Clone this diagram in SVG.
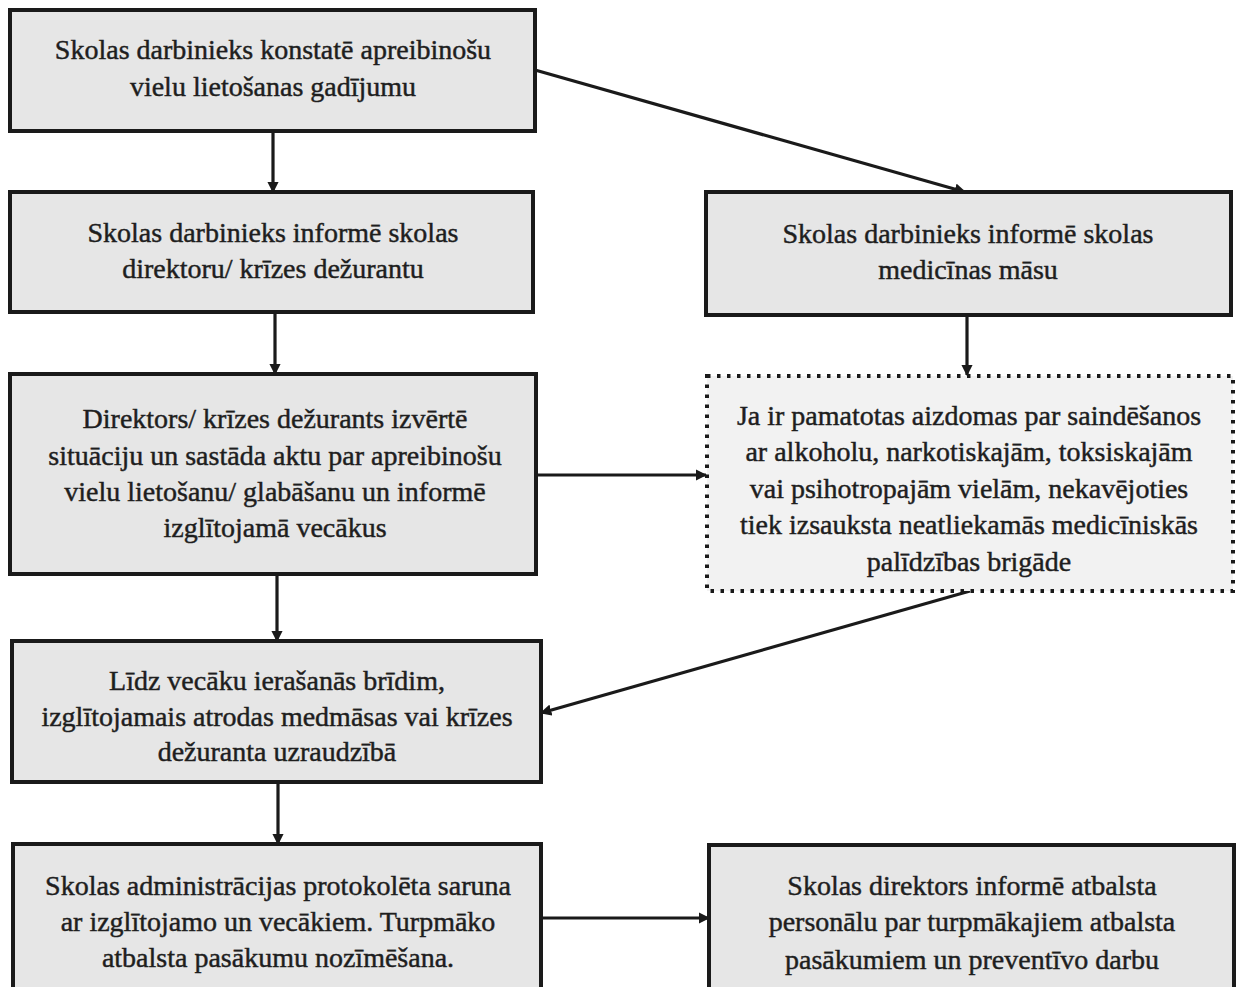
<svg xmlns="http://www.w3.org/2000/svg" width="1241" height="987" viewBox="0 0 1241 987">
<defs>
<style>
.box{fill:#e6e6e6;stroke:#1a1a1a;stroke-width:4}
.dot{fill:#f2f2f2;stroke:#1a1a1a;stroke-width:4;stroke-dasharray:3.5 6.5}
.t{font-family:"Liberation Serif",serif;font-size:28px;fill:#1e1e1e;stroke:#1e1e1e;stroke-width:0.45;text-anchor:middle}
.c{stroke:#1a1a1a;stroke-width:3.2;fill:none;marker-end:url(#ah)}
</style>
<marker id="ah" viewBox="0 0 10 10" refX="9" refY="5" markerWidth="3.6" markerHeight="3.6" orient="auto" markerUnits="strokeWidth">
<path d="M0,0 L10,5 L0,10 z" fill="#1a1a1a"/>
</marker>
</defs>
<rect width="1241" height="987" fill="#ffffff"/>
<g id="connectors">
<line class="c" x1="273" y1="131" x2="273" y2="192"/>
<line class="c" x1="275" y1="312" x2="275" y2="374"/>
<line class="c" x1="277" y1="574" x2="277" y2="641"/>
<line class="c" x1="278" y1="782" x2="278" y2="844"/>
<line class="c" x1="535" y1="70" x2="965" y2="192"/>
<line class="c" x1="967" y1="315" x2="967" y2="375"/>
<line class="c" x1="536" y1="475" x2="706" y2="475"/>
<line class="c" x1="970" y1="591" x2="541" y2="713"/>
<line class="c" x1="541" y1="918" x2="709" y2="918"/>
</g>
<g id="n1">
<rect class="box" x="10" y="10" width="525" height="121"/>
<text class="t" x="273" y="59">Skolas darbinieks konstatē apreibinošu</text>
<text class="t" x="273" y="96">vielu lietošanas gadījumu</text>
</g>
<g id="n2">
<rect class="box" x="10" y="192" width="523" height="120"/>
<text class="t" x="273" y="242">Skolas darbinieks informē skolas</text>
<text class="t" x="273" y="278">direktoru/ krīzes dežurantu</text>
</g>
<g id="n3">
<rect class="box" x="10" y="374" width="526" height="200"/>
<text class="t" x="275" y="428">Direktors/ krīzes dežurants izvērtē</text>
<text class="t" x="275" y="465">situāciju un sastāda aktu par apreibinošu</text>
<text class="t" x="275" y="501">vielu lietošanu/ glabāšanu un informē</text>
<text class="t" x="275" y="537">izglītojamā vecākus</text>
</g>
<g id="n4">
<rect class="box" x="12" y="641" width="529" height="141"/>
<text class="t" x="277" y="690">Līdz vecāku ierašanās brīdim,</text>
<text class="t" x="277" y="726">izglītojamais atrodas medmāsas vai krīzes</text>
<text class="t" x="277" y="761">dežuranta uzraudzībā</text>
</g>
<g id="n5">
<rect class="box" x="13" y="844" width="528" height="150"/>
<text class="t" x="278" y="895">Skolas administrācijas protokolēta saruna</text>
<text class="t" x="278" y="931">ar izglītojamo un vecākiem. Turpmāko</text>
<text class="t" x="278" y="967">atbalsta pasākumu nozīmēšana.</text>
</g>
<g id="r1">
<rect class="box" x="706" y="192" width="525" height="123"/>
<text class="t" x="968" y="243">Skolas darbinieks informē skolas</text>
<text class="t" x="968" y="279">medicīnas māsu</text>
</g>
<g id="r2">
<rect class="dot" x="707" y="376" width="526" height="215"/>
<text class="t" x="969" y="425">Ja ir pamatotas aizdomas par saindēšanos</text>
<text class="t" x="969" y="461">ar alkoholu, narkotiskajām, toksiskajām</text>
<text class="t" x="969" y="498">vai psihotropajām vielām, nekavējoties</text>
<text class="t" x="969" y="534">tiek izsauksta neatliekamās medicīniskās</text>
<text class="t" x="969" y="571">palīdzības brigāde</text>
</g>
<g id="r3">
<rect class="box" x="709" y="845" width="525" height="150"/>
<text class="t" x="972" y="895">Skolas direktors informē atbalsta</text>
<text class="t" x="972" y="931">personālu par turpmākajiem atbalsta</text>
<text class="t" x="972" y="969">pasākumiem un preventīvo darbu</text>
</g>
</svg>
